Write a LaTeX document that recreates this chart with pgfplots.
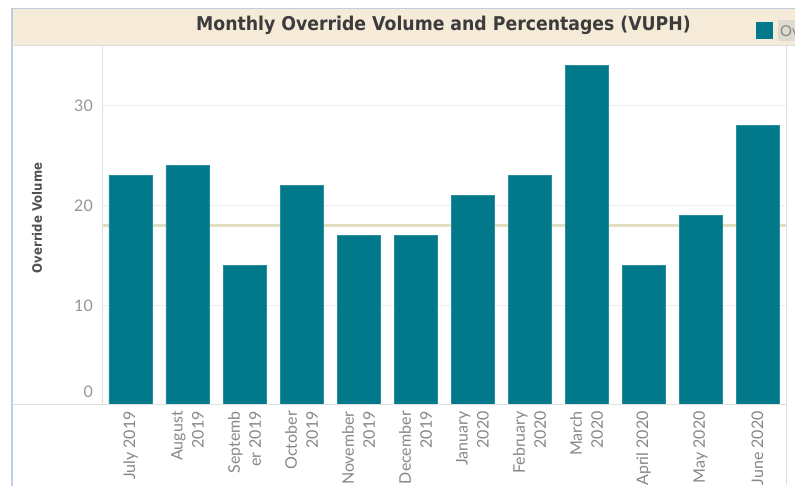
\documentclass[border=0pt]{standalone}
\usepackage{fontspec}
\setmainfont{Lato}
\newfontfamily\titlefont{DejaVu Sans}[FakeStretch=0.91]
\newfontfamily\labfont{DejaVu Sans}[FakeStretch=0.9]
\usepackage{pgfplots}
\pgfplotsset{compat=1.18}
\definecolor{barteal}{RGB}{2,121,139}
\definecolor{refbeige}{RGB}{226,222,192}
\definecolor{bandbeige}{RGB}{246,234,217}
\definecolor{frameblue}{RGB}{190,206,226}
\definecolor{panegray}{RGB}{222,222,222}
\definecolor{gridgray}{RGB}{238,238,238}
\definecolor{tickgray}{RGB}{135,135,135}
\definecolor{ytickgray}{RGB}{150,150,150}
\definecolor{titlegray}{RGB}{60,60,60}
\definecolor{leggray}{RGB}{222,218,208}
\begin{document}
\begin{tikzpicture}
% title band and frame
\fill[bandbeige] (-90pt,358pt) rectangle (700pt,395pt);
\draw[frameblue, line width=1pt] (-90pt,395.5pt) -- (700pt,395.5pt);
\draw[frameblue, line width=1.2pt] (-90pt,396pt) -- (-90pt,-90pt);
\draw[panegray, line width=1pt] (-90pt,358pt) -- (700pt,358pt);
\begin{axis}[
  at={(0pt,-1.5pt)}, anchor=south west,
  scale only axis,
  width=684pt, height=359.5pt,
  xmin=-0.5, xmax=11.5,
  ymin=0, ymax=35.95,
  axis line style={draw=none},
  major tick length=0pt,
  ytick={10,20,30},
  extra y ticks={0},
  extra y tick style={grid=none, yticklabel style={yshift=13.5pt}},
  ymajorgrids, grid style={gridgray, line width=0.8pt},
  yticklabel style={font=\fontsize{16}{19}\selectfont, text=ytickgray, anchor=east, inner sep=0pt, xshift=-9pt},
  xtick={0,...,11},
  xticklabels={{July 2019},{August\\2019},{Septemb\\er 2019},{October\\2019},{November\\2019},{December\\2019},{January\\2020},{February\\2020},{March\\2020},{April 2020},{May 2020},{June 2020}},
  xticklabel style={font=\fontsize{16}{21}\selectfont, text=tickgray, rotate=90, anchor=east, align=right, inner sep=0pt},
  xticklabel shift=5.5pt,
  /pgf/number format/assume math mode=true,
]
\addplot[refbeige, line width=3pt, forget plot] coordinates {(-0.5,18) (11.5,18)};
\addplot[ybar, bar width=43pt, bar shift=0pt, fill=barteal, draw=barteal!85!white, line width=0.4pt] coordinates {
(0,23) (1,24) (2,14) (3,22) (4,17) (5,17) (6,21) (7,23) (8,34) (9,14) (10,19) (11,28)};
\end{axis}
\fill[white] (0.5pt,-1.6pt) rectangle (683.5pt,0pt);
% pane lines
\draw[panegray, line width=1pt] (0pt,0pt) -- (0pt,358pt);
\draw[panegray, line width=1pt] (684pt,-81pt) -- (684pt,358pt);
\draw[panegray, line width=1pt] (-90pt,0pt) -- (684pt,0pt);
% title
\node[font=\titlefont\bfseries\fontsize{19}{22}\selectfont, text=titlegray] at (341.5pt,379pt) {Monthly Override Volume and Percentages (VUPH)};
% y label
\node[font=\labfont\bfseries\fontsize{13}{15}\selectfont, text=titlegray!90, rotate=90] at (-65pt,186pt) {Override Volume};
% legend (clipped at the right edge)
\fill[barteal] (654pt,365pt) rectangle (671pt,382pt);
\fill[leggray] (676pt,363pt) rectangle (710pt,384pt);
\node[anchor=west, inner sep=0pt, font=\fontsize{15}{18}\selectfont, text=tickgray] at (678pt,373pt) {Override Volume};
\pgfresetboundingbox
\path[use as bounding box] (-102pt,-81pt) rectangle (693pt,404pt);
\end{tikzpicture}
\end{document}
